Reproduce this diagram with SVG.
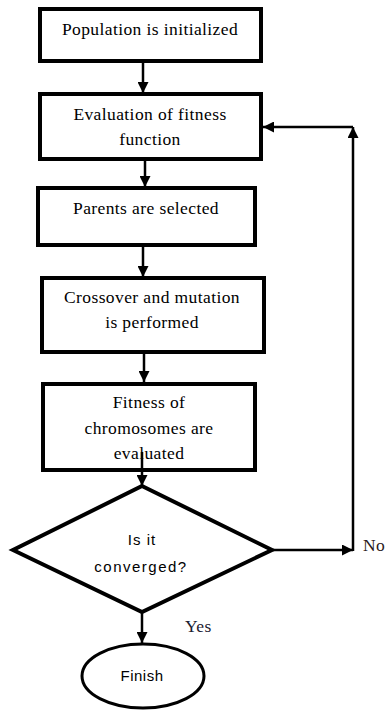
<svg xmlns="http://www.w3.org/2000/svg" width="385" height="719" viewBox="0 0 385 719">
<style>
.box{fill:#fff;stroke:#000;stroke-width:4}
.ln{fill:none;stroke:#000;stroke-width:2.5}
.t{font-family:'Liberation Serif','Times New Roman','DejaVu Serif',serif;font-size:17.5px;letter-spacing:0.4px;fill:#000;text-anchor:middle}
.s{font-family:'Liberation Sans',Arial,sans-serif;font-size:15px;fill:#000;text-anchor:middle}
</style>
<defs>
<marker id="ah" viewBox="0 0 10 10" refX="10" refY="5" markerWidth="11" markerHeight="11" orient="auto" markerUnits="userSpaceOnUse">
<path d="M0,0 L10,5 L0,10 z" fill="#000"/>
</marker>
</defs>
<rect width="385" height="719" fill="#fff"/>
<g id="n1"><rect class="box" x="40" y="9" width="221" height="52"/><text class="t" x="150" y="35">Population is initialized</text></g>
<g id="n2"><rect class="box" x="40" y="94" width="221" height="65"/><text class="t" x="150" y="120">Evaluation of fitness</text><text class="t" x="150" y="145">function</text></g>
<g id="n3"><rect class="box" x="38" y="188" width="217" height="57"/><text class="t" x="146" y="214">Parents are selected</text></g>
<g id="n4"><rect class="box" x="42" y="278" width="222" height="74"/><text class="t" x="152" y="303">Crossover and mutation</text><text class="t" x="152" y="328">is performed</text></g>
<g id="n5"><rect class="box" x="43" y="384" width="212" height="86"/><text class="t" x="149" y="408">Fitness of</text><text class="t" x="149" y="434">chromosomes are</text><text class="t" x="149" y="459">evaluated</text></g>
<g id="n6"><polygon points="142,486 272,550 142,612 13,550" fill="#fff" stroke="#000" stroke-width="4"/><text class="s" x="142" y="545" letter-spacing="1">Is it</text><text class="s" x="141" y="572" letter-spacing="1.5">converged?</text></g>
<g id="n7"><ellipse cx="143" cy="676" rx="61" ry="32" fill="#fff" stroke="#000" stroke-width="3"/><text class="s" x="142" y="681" letter-spacing="0.5">Finish</text></g>
<g id="edges">
<line class="ln" x1="143" y1="63" x2="143" y2="93" marker-end="url(#ah)"/>
<line class="ln" x1="145" y1="161" x2="145" y2="187" marker-end="url(#ah)"/>
<line class="ln" x1="143" y1="247" x2="143" y2="277" marker-end="url(#ah)"/>
<line class="ln" x1="144" y1="354" x2="144" y2="382" marker-end="url(#ah)"/>
<line class="ln" x1="142" y1="452" x2="142" y2="486" marker-end="url(#ah)"/>
<line class="ln" x1="142" y1="613" x2="142" y2="643" marker-end="url(#ah)"/>
<line class="ln" x1="273" y1="550" x2="353" y2="550" marker-end="url(#ah)"/>
<line class="ln" x1="353" y1="551" x2="353" y2="127" marker-end="url(#ah)"/>
<line class="ln" x1="353" y1="127" x2="263" y2="127" marker-end="url(#ah)"/>
<text class="t" x="363" y="551" style="text-anchor:start;fill:#2b1a1a">No</text>
<text class="t" x="185" y="632" style="text-anchor:start;fill:#1a2030">Yes</text>
</g>
</svg>
